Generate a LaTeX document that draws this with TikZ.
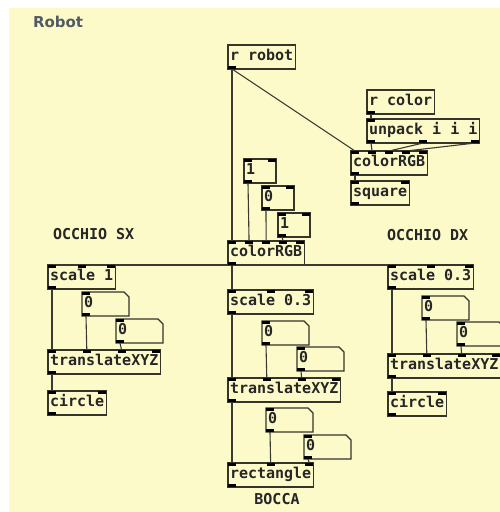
\documentclass[tikz,border=0pt]{standalone}
\usepackage{fontspec}
\newfontfamily\pdfont{DejaVu Sans Mono}
\newfontfamily\titlefont{DejaVu Sans}
\usepackage{tikz}
\usetikzlibrary{calc}
\definecolor{canvas}{HTML}{FCFAC8}
\definecolor{boxline}{HTML}{34342A}
\definecolor{wirecol}{HTML}{3A3A32}
\definecolor{titlecol}{HTML}{525A66}
% wire: src, outlet nr, nr of outlets, dst, inlet nr, nr of inlets
\newcommand{\wire}[6]{%
  \draw[wire] let \p1=(#1.south west), \p2=(#1.south east),
                  \p3=(#4.north west), \p4=(#4.north east) in
    ({\x1+#2*(\x2-\x1-8pt)/max(#3-1,1)+4pt},\y1) --
    ({\x3+#5*(\x4-\x3-8pt)/max(#6-1,1)+4pt},\y3);%
}
\begin{document}
\begin{tikzpicture}[
  x=1pt, y=-1pt,
  every node/.style={outer sep=0pt},
  obj/.style={draw=boxline, line width=1.3pt, anchor=north west,
    font=\pdfont\bfseries\fontsize{15}{17}\selectfont, text=black!85,
    inner xsep=2pt, inner ysep=5pt, text height=10.5pt, text depth=3.5pt},
  msg/.style={obj, text width=28pt, align=left},
  atom/.style={obj, draw=none, text width=43pt, align=left},
  lbl/.style={font=\pdfont\bfseries\fontsize{15}{17}\selectfont, text=black!85, inner sep=0pt},
  wire/.style={wirecol, line width=1.1pt},
  iomark/.style={fill=black},
]
\useasboundingbox (0,0) rectangle (500,512);
\fill[canvas] (9,8) rectangle (500,512);

\node[font=\titlefont\bfseries\fontsize{15}{18}\selectfont, text=titlecol, inner sep=0pt, anchor=west] (title) at (33,22) {Robot};

% ---------------- top: receive + colour ----------------
\node[obj] (rrobot) at (228,45)  {r robot};
\node[obj] (rcolor) at (367,90)  {r color};
\node[obj] (unpack) at (367,119) {unpack i i i};
\node[obj] (colorA) at (351,151) {colorRGB};
\node[obj] (square) at (351,181) {square};

\node[msg] (msgA) at (244,159) {1};
\node[msg] (msgB) at (262,186) {0};
\node[msg] (msgC) at (278,213) {1};
\node[obj] (colorB) at (228,241) {colorRGB};

% ---------------- labels ----------------
\node[lbl, anchor=west] (lblSX) at (53,234)  {OCCHIO SX};
\node[lbl, anchor=west] (lblDX) at (387,235) {OCCHIO DX};
\node[lbl] (lblBO) at (277,499) {BOCCA};

% ---------------- occhio sx ----------------
\node[obj]  (scaleL) at (48,265)  {scale 1};
\node[atom] (atomL1) at (82,292)  {0};
\node[atom] (atomL2) at (116,319) {0};
\node[obj]  (transL) at (48,350)  {translateXYZ};
\node[obj]  (circL)  at (48,391)  {circle};

% ---------------- bocca ----------------
\node[obj]  (scaleM) at (228,290) {scale 0.3};
\node[atom] (atomM1) at (262,321) {0};
\node[atom] (atomM2) at (297,347) {0};
\node[obj]  (transM) at (228,378) {translateXYZ};
\node[atom] (atomM3) at (266,408) {0};
\node[atom] (atomM4) at (304,435) {0};
\node[obj]  (rect)   at (228,463) {rectangle};

% ---------------- occhio dx ----------------
\node[obj]  (scaleR) at (388,265) {scale 0.3};
\node[atom] (atomR1) at (422,296) {0};
\node[atom] (atomR2) at (457,322) {0};
\node[obj]  (transR) at (388,354) {translateXYZ};
\node[obj]  (circR)  at (388,392) {circle};

% number boxes: cut corner
\foreach \a in {atomL1,atomL2,atomM1,atomM2,atomM3,atomM4,atomR1,atomR2}{
  \draw[boxline, line width=1.3pt] (\a.north west) -- ([xshift=-5pt]\a.north east)
    -- ([yshift=-5pt]\a.north east) -- (\a.south east) -- (\a.south west) -- cycle;
}

% ---------------- wires ----------------
\wire{rrobot}{0}{1}{colorB}{0}{5}
\wire{rrobot}{0}{1}{colorA}{0}{5}
\wire{rcolor}{0}{1}{unpack}{0}{1}
\wire{unpack}{0}{3}{colorA}{1}{5}
\wire{unpack}{1}{3}{colorA}{2}{5}
\wire{unpack}{2}{3}{colorA}{3}{5}
\wire{colorA}{0}{1}{square}{0}{2}
\wire{msgA}{0}{1}{colorB}{1}{5}
\wire{msgB}{0}{1}{colorB}{2}{5}
\wire{msgC}{0}{1}{colorB}{3}{5}
\foreach \s in {scaleL,scaleM,scaleR} \wire{colorB}{0}{1}{\s}{0}{3};
\foreach \s/\t/\a/\b in {scaleL/transL/atomL1/atomL2, scaleM/transM/atomM1/atomM2, scaleR/transR/atomR1/atomR2}{
  \wire{\s}{0}{1}{\t}{0}{4}
  \wire{\a}{0}{1}{\t}{1}{4}
  \wire{\b}{0}{1}{\t}{2}{4}
}
\wire{transL}{0}{1}{circL}{0}{2}
\wire{transR}{0}{1}{circR}{0}{2}
\wire{transM}{0}{1}{rect}{0}{3}
\wire{atomM3}{0}{1}{rect}{1}{3}
\wire{atomM4}{0}{1}{rect}{2}{3}

% ---------------- inlets / outlets ----------------
\foreach \bx/\ni/\no in {rrobot/0/1, rcolor/0/1, unpack/1/3, colorA/5/1, square/2/1,
    msgA/2/1, msgB/2/1, msgC/2/1, colorB/5/1,
    scaleL/3/1, atomL1/1/1, atomL2/1/1, transL/4/1, circL/2/1,
    scaleM/3/1, atomM1/1/1, atomM2/1/1, transM/4/1, atomM3/1/1, atomM4/1/1, rect/3/1,
    scaleR/3/1, atomR1/1/1, atomR2/1/1, transR/4/1, circR/2/1}{
  \ifnum\ni>0
    \foreach \k in {1,...,\ni}{
      \fill[iomark] let \p1=(\bx.north west), \p2=(\bx.north east) in
        ({\x1+(\k-1)*(\x2-\x1-8pt)/max(\ni-1,1)},\y1) rectangle ++(8pt,-3pt);
    }
  \fi
  \foreach \k in {1,...,\no}{
    \fill[iomark] let \p1=(\bx.south west), \p2=(\bx.south east) in
      ({\x1+(\k-1)*(\x2-\x1-8pt)/max(\no-1,1)},\y1) rectangle ++(8pt,3pt);
  }
}
\end{tikzpicture}
\end{document}
